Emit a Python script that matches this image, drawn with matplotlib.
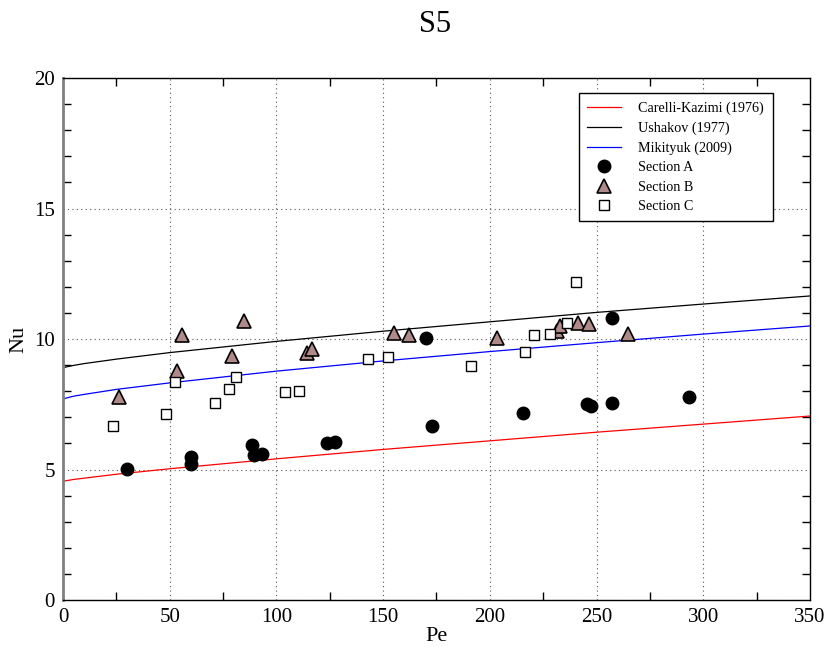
import numpy as np
import matplotlib
matplotlib.use('Agg')
import matplotlib.pyplot as plt
from matplotlib.ticker import MultipleLocator

plt.rcParams['font.family'] = ['Liberation Serif', 'DejaVu Serif']

# --- correlations ---
pe_curve = [0, 2, 5, 10, 25, 50, 100, 150, 200, 250, 300, 350]
nu_carelli = [4.55, 4.58, 4.62, 4.67, 4.82, 5.03, 5.41, 5.77, 6.10, 6.43, 6.74, 7.05]
nu_ushakov = [8.90, 8.94, 8.99, 9.06, 9.23, 9.48, 9.91, 10.30, 10.66, 11.02, 11.34, 11.65]
nu_mikityuk = [7.70, 7.75, 7.81, 7.88, 8.07, 8.32, 8.77, 9.16, 9.52, 9.86, 10.19, 10.50]

# --- measurements ---
pe_a = [29.8, 60.0, 60.0, 88.7, 89.7, 93.4, 123.9, 127.5, 170.1, 173.1, 215.7, 245.7, 247.3, 257.3, 257.3, 293.3]
nu_a = [5.01, 5.49, 5.21, 5.94, 5.56, 5.59, 6.03, 6.07, 10.03, 6.68, 7.15, 7.50, 7.45, 10.82, 7.56, 7.78]

pe_b = [26.4, 53.3, 55.9, 79.3, 84.7, 114.2, 116.8, 155.2, 162.3, 203.2, 231.5, 233.0, 241.2, 246.6, 264.6]
nu_b = [7.77, 8.77, 10.15, 9.35, 10.70, 9.45, 9.63, 10.22, 10.14, 10.03, 10.30, 10.50, 10.60, 10.57, 10.19]

pe_c = [23.6, 48.3, 52.6, 71.1, 77.6, 81.2, 104.2, 110.4, 142.8, 152.5, 191.2, 216.5, 220.7, 228.1, 236.2, 240.5]
nu_c = [6.68, 7.14, 8.37, 7.56, 8.08, 8.53, 7.98, 8.02, 9.25, 9.32, 8.97, 9.51, 10.15, 10.18, 10.60, 12.17]

fig = plt.figure(figsize=(8.26, 6.47), dpi=100)
ax = fig.add_axes([0.0763, 0.0726, 0.9043, 0.8068])

ax.plot(pe_curve, nu_carelli, color='red', lw=0.9, label='Carelli-Kazimi (1976)')
ax.plot(pe_curve, nu_ushakov, color='black', lw=0.9, label='Ushakov (1977)')
ax.plot(pe_curve, nu_mikityuk, color='blue', lw=0.9, label='Mikityuk (2009)')
ax.plot(pe_a, nu_a, 'o', color='black', ms=9, label='Section A')
ax.plot(pe_b, nu_b, '^', mfc='#b08a88', mec='black', mew=1.2, ms=10, label='Section B')
ax.plot(pe_c, nu_c, 's', mfc='white', mec='black', mew=1.0, ms=7, label='Section C')

ax.set_xlim(0, 350)
ax.set_ylim(0, 20)
ax.xaxis.set_major_locator(MultipleLocator(50))
ax.xaxis.set_minor_locator(MultipleLocator(25))
ax.yaxis.set_major_locator(MultipleLocator(5))
ax.yaxis.set_minor_locator(MultipleLocator(1))
ax.tick_params(which='major', length=0, labelsize=15, pad=6)
ax.tick_params(which='minor', direction='in', length=6, width=1,
               top=True, right=True)
ax.grid(True, which='major', color='#555555', ls=(0, (1, 3)), lw=0.8)
for s in ax.spines.values():
    s.set_linewidth(1.0)
    s.set_color('black')
ax.spines['left'].set_linewidth(2.0)
ax.spines['left'].set_color('#808080')

ax.set_xlabel('Pe', fontsize=16, labelpad=0)
ax.set_ylabel('Nu', fontsize=16, labelpad=4)
fig.text(0.527, 0.962, 'S5', ha='center', va='center', fontsize=22)

leg = ax.legend(loc='upper right', bbox_to_anchor=(0.950, 0.971), borderaxespad=0,
                fontsize=10.2, fancybox=False, framealpha=1, edgecolor='black',
                handlelength=2.4, handletextpad=1.2, labelspacing=0.45, borderpad=0.6)
leg.get_frame().set_linewidth(1.0)

fig.savefig('out.png', dpi=100)
